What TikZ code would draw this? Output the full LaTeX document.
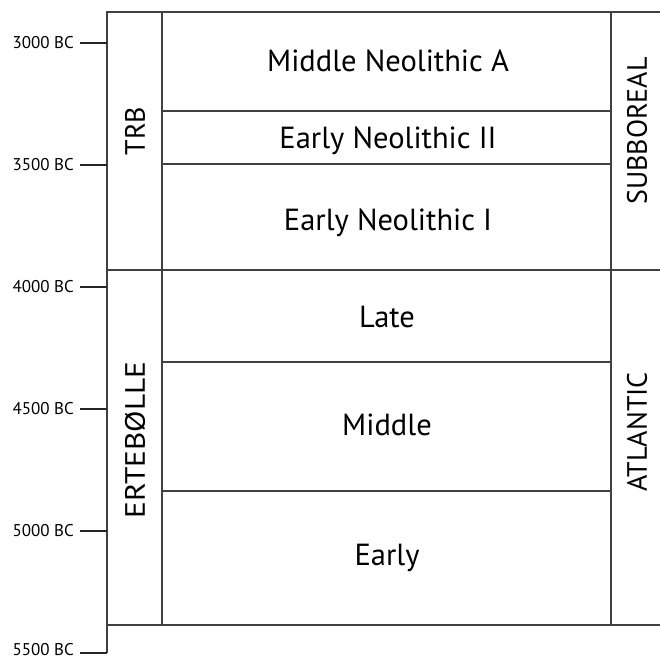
\documentclass[tikz,border=0pt]{standalone}
\usepackage{fontspec}
\setmainfont{PT Sans}
\begin{document}
\begin{tikzpicture}[x=1pt,y=-1pt,
  grid/.style={draw=black!75,line width=1.2pt},
  tick/.style={draw=black!85,line width=1.2pt},
  celltext/.style={font=\fontsize{30.5}{32}\selectfont,inner sep=0pt,anchor=base},
  sidetext/.style={font=\fontsize{28}{30}\selectfont,rotate=90,inner sep=0pt},
  yeartext/.style={font=\fontsize{17}{19}\selectfont,anchor=east,inner sep=0pt}]
\useasboundingbox (0,0) rectangle (660,658);
% coordinates
\coordinate (tl) at (107,12);
\coordinate (tr) at (660,12);
\coordinate (ml) at (107,270);
\coordinate (mr) at (660,270);
\coordinate (bl) at (107,625);
\coordinate (br) at (660,625);
\coordinate (bot) at (107,653);
% frame
\draw[grid] (tr) -- (tl) -- (bot);
\draw[grid] (ml) -- (mr);
\draw[grid] (bl) -- (br);
\draw[grid] (162,12) -- (162,625);
\draw[grid] (611,12) -- (611,625);
\draw[grid] (162,111) -- (611,111);
\draw[grid] (162,164) -- (611,164);
\draw[grid] (162,362) -- (611,362);
\draw[grid] (162,491) -- (611,491);
% year ticks
\foreach \y/\t/\n/\ly in {43/3000/a/43,165/3500/b/165,287/4000/c/287,409/4500/d/409,531/5000/e/531,653/5500/f/650}{
  \coordinate (k\n) at (107,\y);
  \coordinate (j\n) at (80,\y);
  \draw[tick] (j\n) -- (k\n);
  \node[yeartext] (y\n) at (74,\ly) {\t{} BC};
}
% cell texts
\node[celltext] (mna) at (388,72) {Middle Neolithic A};
\node[celltext] (en2) at (388,148) {Early Neolithic II};
\node[celltext] (en1) at (388,230) {Early Neolithic I};
\node[celltext] (late) at (387,327) {Late};
\node[celltext] (mid) at (387,435) {Middle};
\node[celltext] (early) at (387,565) {Early};
% side texts
\node[sidetext] (trb) at (135,131) {TRB};
\node[sidetext,xscale=1.12] (ert) at (135,440) {ERTEBØLLE};
\node[sidetext] (sub) at (637,131) {SUBBOREAL};
\node[sidetext] (atl) at (637,432) {ATLANTIC};
\end{tikzpicture}
\end{document}
